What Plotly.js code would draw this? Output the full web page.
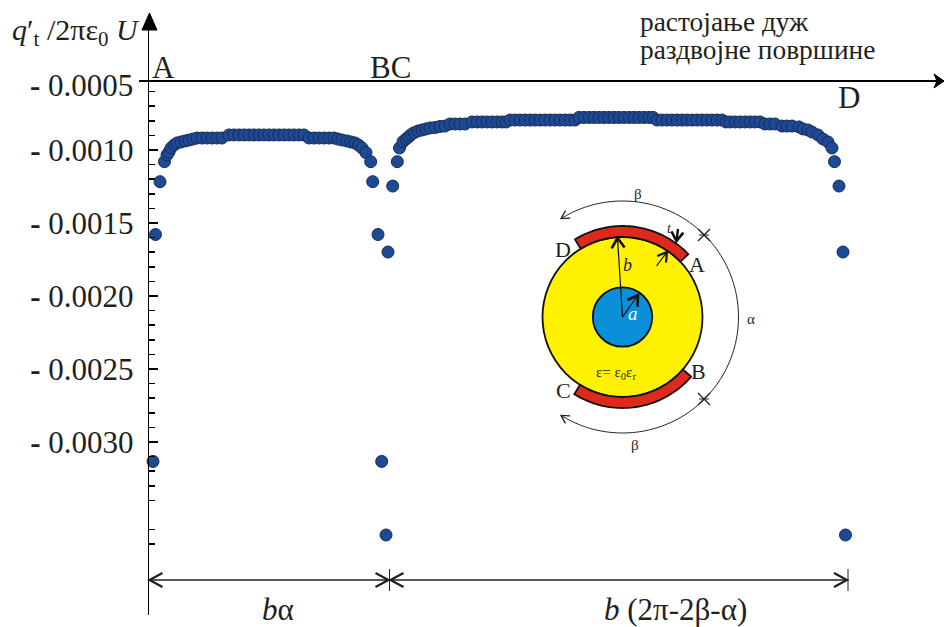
<!DOCTYPE html>
<html><head><meta charset="utf-8">
<script src="https://cdn.plot.ly/plotly-3.0.1.min.js"></script>
<style>html,body{margin:0;padding:0;background:#fff}#c{width:944px;height:627px}</style>
</head><body><div id="c"></div>
<script>
// distance along the separating surface (axis units), sector AB
const distanceAB = [4,6.5,11,15.5,18,20,22,25,28,32,36,40,44,48,53,58,63,68,73,80,85,90,95,100,105,110,115,120,125,130,135,140,145,150,155,160,165,170,175,180,185,189,193,198,202,206,209.5,213,217,221.7,223.7,229,232.7,237];
const chargeAB = [-0.003133,-0.001579,-0.001217,-0.00108,-0.001034,-0.001014,-0.000986,-0.000966,-0.000952,-0.000945,-0.000938,-0.000932,-0.000925,-0.000918,-0.000918,-0.000918,-0.000918,-0.000918,-0.000918,-0.000897,-0.000897,-0.000897,-0.000897,-0.000897,-0.000897,-0.000897,-0.000897,-0.000897,-0.000897,-0.000897,-0.000897,-0.000897,-0.000897,-0.000897,-0.000897,-0.000918,-0.000918,-0.000918,-0.000918,-0.000918,-0.000918,-0.000925,-0.000932,-0.000938,-0.000945,-0.000952,-0.000966,-0.000986,-0.001018,-0.00108,-0.001217,-0.001579,-0.003133,-0.003637];
// sector CD
const distanceCD = [239,243.7,248.3,250.5,254,257,259.5,262,265,269,273,277,281,286,291,296,
 301,306,311,316,
 323,328,333,338,343,348,353,357,
 361,366,371,376,381,386,391,396,401,406,411,416,421,426,
 430,435,440,445,450,455,460,465,470,475,480,485,490,495,500,504,
 508,513,518,523,528,533,538,543,548,553,558,563,568,573,
 577,581,586,591,596,601,606,611,
 616,621,626,
 633,638,643,
 650,654,659,663,669,674,679,683,685.5,690,694,696.5];
const chargeCD = [-0.001699,-0.001247,-0.00108,-0.000986,-0.000943,-0.000925,-0.000911,-0.000895,-0.000882,-0.00087,-0.000863,-0.000856,-0.000849,-0.000846,-0.000839,-0.000836,
 -0.000822,-0.000822,-0.000822,-0.000822,
 -0.000808,-0.000808,-0.000808,-0.000808,-0.000808,-0.000808,-0.000808,-0.000808,
 -0.000795,-0.000795,-0.000795,-0.000795,-0.000795,-0.000795,-0.000795,-0.000795,-0.000795,-0.000795,-0.000795,-0.000795,-0.000795,-0.000795,
 -0.000777,-0.000777,-0.000777,-0.000777,-0.000777,-0.000777,-0.000777,-0.000777,-0.000777,-0.000777,-0.000777,-0.000777,-0.000777,-0.000777,-0.000777,-0.000777,
 -0.000795,-0.000795,-0.000795,-0.000795,-0.000795,-0.000795,-0.000795,-0.000795,-0.000795,-0.000795,-0.000795,-0.000795,-0.000795,-0.000795,
 -0.000808,-0.000808,-0.000808,-0.000808,-0.000808,-0.000808,-0.000808,-0.000808,
 -0.000822,-0.000822,-0.000822,
 -0.000836,-0.000836,-0.000836,
 -0.000842,-0.000856,-0.000863,-0.000877,-0.000897,-0.000925,-0.000945,-0.000986,-0.00108,-0.001247,-0.001699,-0.003637];
// y axis ticks
const majorTicks = [-0.0010,-0.0015,-0.0020,-0.0025,-0.0030];
const majorLabels = ['0.0010','0.0015','0.0020','0.0025','0.0030'];
const minorTicks = [-0.0006,-0.0007,-0.0008,-0.0009,-0.0011,-0.0012,-0.0013,-0.0014,-0.0016,-0.0017,-0.0018,-0.0019,-0.0021,-0.0022,-0.0023,-0.0024,-0.0026,-0.0027,-0.0028,-0.0029,-0.0031,-0.0032,-0.0033,-0.0034,-0.0036,-0.0037];

const INK='#231f20', FONT='"Liberation Serif","Times New Roman",serif';
const L=149,T=15,PW=795,PH=600;
const X=p=>(p-L)/PW, Y=p=>(T+PH-p)/PH;
const ann=(px,py,text,size,o={})=>Object.assign({xref:'paper',yref:'paper',x:X(px),y:Y(py),text,showarrow:false,
  font:{family:FONT,size,color:INK},xanchor:'center',yanchor:'middle'},o);
const poly=(pts,close)=>pts.map((q,i)=>(i?'L':'M')+X(q[0]).toFixed(5)+','+Y(q[1]).toFixed(5)).join(' ')+(close?' Z':'');
const pathS=(pts,o={})=>({type:'path',xref:'paper',yref:'paper',path:poly(pts,o.fill),layer:'above',
  line:{color:o.color||INK,width:o.w||1},fillcolor:o.fill||'rgba(0,0,0,0)'});
const seg=(x0,y0,x1,y1,w,c)=>pathS([[x0,y0],[x1,y1]],{w,color:c});
const head=(tx,ty,dx,dy,len,half,w,c)=>{const n=Math.hypot(dx,dy),ux=dx/n,uy=dy/n,bx=tx-ux*len,by=ty-uy*len;
  return pathS([[bx-uy*half,by+ux*half],[tx,ty],[bx+uy*half,by-ux*half]],{w,color:c});};
const CX=622.5,CY=317,rad=d=>d*Math.PI/180;
const onC=(r,a)=>[CX+r*Math.cos(rad(a)),CY-r*Math.sin(rad(a))];
const arc=(r,a0,a1)=>{const p=[],n=48;for(let i=0;i<=n;i++)p.push(onC(r,a0+(a1-a0)*i/n));return p;};
const circ=(r,fill)=>({type:'circle',xref:'paper',yref:'paper',x0:X(CX-r),x1:X(CX+r),y0:Y(CY+r),y1:Y(CY-r),fillcolor:fill,line:{color:'#111',width:1.8},layer:'above'});
const sector=(a0,a1)=>pathS(arc(80,a0,a1).concat(arc(91,a1,a0)),{fill:'#dd2a1c',color:'#111',w:1.8});
const star=(px,py)=>[seg(px-6,py-6,px+6,py+6,1.2,INK),seg(px-6,py+6,px+6,py-6,1.2,INK),seg(px-5,py,px+5,py,1,INK)];

const shapes=[
  seg(139,81,149,81,2,'#000'),
  pathS([[149.5,13],[157,30],[142,30]],{fill:'#000',color:'#000'}),
  pathS([[944,81],[934,74],[937,81],[934,88]],{fill:'#000',color:'#000'}),
  seg(149,580,848,580,1.5,INK),seg(389.5,569,389.5,591,1,INK),seg(848,569,848,591,1,INK),
  head(149.5,580,-1,0,13,7,2.2,INK),head(388.5,580,1,0,13,7,2.2,INK),head(390.5,580,-1,0,13,7,2.2,INK),head(847,580,1,0,13,7,2.2,INK),
  circ(80,'#fff200'),circ(29.7,'#0a8fd9'),
  sector(43.7,121.5),sector(-122,-41),
  pathS(arc(116,45,122),{w:1}),pathS(arc(116,45,-45),{w:1}),pathS(arc(116,-45,-122),{w:1}),
  ...star(704,235),...star(704,399),
  head(...onC(116,122),-Math.sin(rad(122)),-Math.cos(rad(122)),8,4.5,1.3,INK),
  head(...onC(116,-122),Math.sin(rad(-122)),Math.cos(rad(-122)),8,4.5,1.3,INK),
  seg(CX,CY,617.5,238,1.2,'#111'),head(617.5,238,-0.06,-1,10,6.5,2.6,'#111'),
  seg(CX,CY,638,295,1.2,'#111'),head(638,295,0.55,-0.83,10,6,2.6,'#111'),
  seg(656.5,266,667,252,1.2,'#111'),head(667,252,0.6,-0.8,9,5.5,2.2,'#111'),
  seg(678,229,676.5,241,2.4,'#111'),head(676.5,241,-0.1,1,9,6,2.6,'#111')
];

const annotations=[
  ann(75.5,32,'<i>q</i>′<sub>t</sub> /2πε<sub>0</sub> <i>U</i>',30),
  ann(81,85,'<b>-</b> 0.0005',31),
  ann(163,67,'A',31),ann(390,67,'BC',31),ann(849,98,'D',31),
  ann(638,22.5,'растојање дуж',27.4,{xanchor:'left'}),ann(638,49.5,'раздвојне површине',27.4,{xanchor:'left'}),
  ann(278,609,'<i>b</i>α',31),ann(675,609,'<i>b</i> (2π-2β-α)',31),
  ann(563,249,'D',22),ann(696.5,264,'A',22),ann(698,371.5,'B',22),ann(563.5,390,'C',22),
  ann(627.7,265,'<i>b</i>',18),ann(633,313,'<i>a</i>',19,{font:{family:FONT,size:19,color:'#fff'}}),
  ann(669,228,'<i>t</i>',14),ann(751,319,'α',15),ann(638,194,'β',15),ann(635,445,'β',15),
  ann(616,372.5,'ε= ε<sub>0</sub>ε<sub>r</sub>',15)
];

const marker={size:12,color:'#1c4a97',line:{color:'#1a2b4f',width:1}};
Plotly.newPlot('c',[
 {type:'scatter',mode:'markers',x:distanceAB,y:chargeAB,marker,cliponaxis:false,showlegend:false},
 {type:'scatter',mode:'markers',x:distanceCD,y:chargeCD,marker,cliponaxis:false,showlegend:false}
],{
  width:944,height:627,margin:{l:L,r:0,t:T,b:12,pad:0},paper_bgcolor:'#fff',plot_bgcolor:'#fff',showlegend:false,
  font:{family:FONT,color:INK},
  xaxis:{range:[0,795],showgrid:false,zeroline:false,showticklabels:false,ticks:'',showline:true,linecolor:'#000',linewidth:2,anchor:'free',position:0.89},
  yaxis:{range:[-0.004185,-0.0000754],showgrid:false,zeroline:false,showline:true,linecolor:'#000',linewidth:1.2,
    tickmode:'array',tickvals:majorTicks,ticktext:majorLabels.map(s=>'<b>-</b> '+s),ticks:'inside',ticklen:9,tickwidth:2,tickcolor:'#000',
    ticklabelstandoff:8,tickfont:{family:FONT,size:31,color:INK},
    minor:{tickmode:'array',tickvals:minorTicks,ticks:'inside',ticklen:6,tickwidth:1.5,tickcolor:'#000',showgrid:false}},
  shapes,annotations
},{staticPlot:true,displayModeBar:false});
</script></body></html>
